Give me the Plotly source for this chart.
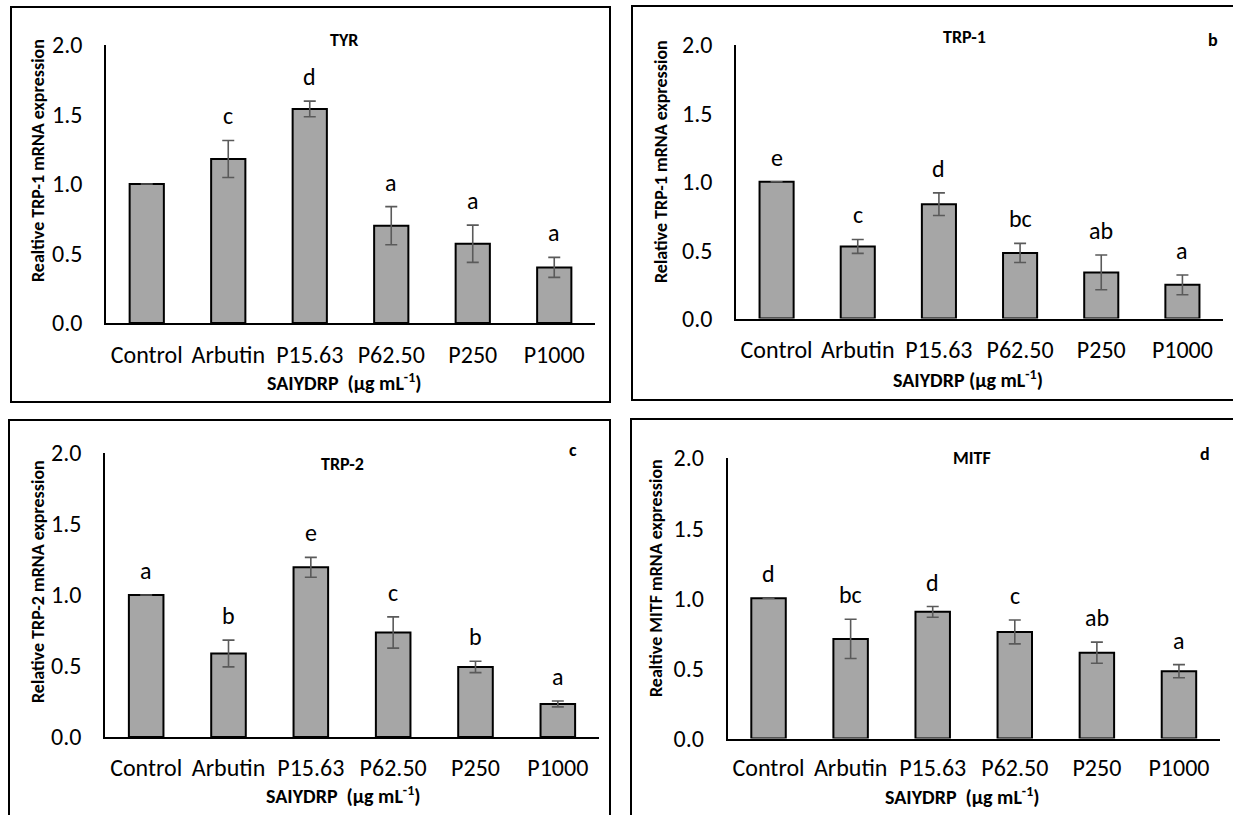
import plotly.graph_objects as go

W, H = 1233, 815

categories = ["Control", "Arbutin", "P15.63", "P62.50", "P250", "P1000"]

tyr_mean = [1.0, 1.18, 1.54, 0.70, 0.57, 0.40]
tyr_err = [0.0, 0.133, 0.056, 0.137, 0.134, 0.072]
tyr_letters = ["", "c", "d", "a", "a", "a"]

trp1_mean = [1.0, 0.527, 0.836, 0.479, 0.337, 0.246]
trp1_err = [0.0, 0.051, 0.083, 0.070, 0.127, 0.072]
trp1_letters = ["e", "c", "d", "bc", "ab", "a"]

trp2_mean = [1.0, 0.588, 1.195, 0.736, 0.493, 0.233]
trp2_err = [0.0, 0.094, 0.070, 0.110, 0.040, 0.021]
trp2_letters = ["a", "b", "e", "c", "b", "a"]

mitf_mean = [1.0, 0.71, 0.903, 0.76, 0.612, 0.48]
mitf_err = [0.0, 0.140, 0.038, 0.085, 0.075, 0.047]
mitf_letters = ["d", "bc", "d", "c", "ab", "a"]

y_ticks = [0.0, 0.5, 1.0, 1.5, 2.0]

FONT = "Carlito, Calibri, Lato, sans-serif"


def px_x(v):
    return v / W


def px_y(v):
    return 1 - v / H


panels = [
    dict(mean=tyr_mean, err=tyr_err, letters=tyr_letters,
         plot=(106, 595, 45, 323), box=(11, 610, 7, 402), ticklen=9,
         title="TYR", title_pos=(344, 40),
         ylabel="Realtive TRP-1 mRNA expression", ylabel_pos=(38, 161),
         xlabel="SAIYDRP  (µg mL<sup>-1</sup>)", xlabel_pos=(344, 382),
         corner=None, corner_pos=None),
    dict(mean=trp1_mean, err=trp1_err, letters=trp1_letters,
         plot=(736, 1223, 45, 318.5), box=(632, 1245, 6, 400), ticklen=9,
         title="TRP-1", title_pos=(964, 37),
         ylabel="Relative TRP-1 mRNA expression", ylabel_pos=(661, 162),
         xlabel="SAIYDRP (µg mL<sup>-1</sup>)", xlabel_pos=(968, 379),
         corner="b", corner_pos=(1213, 40)),
    dict(mean=trp2_mean, err=trp2_err, letters=trp2_letters,
         plot=(105, 599, 453, 737), box=(9, 610, 420, 830), ticklen=8,
         title="TRP-2", title_pos=(343, 464),
         ylabel="Relative TRP-2 mRNA expression", ylabel_pos=(38, 582),
         xlabel="SAIYDRP  (µg mL<sup>-1</sup>)", xlabel_pos=(343, 795),
         corner="c", corner_pos=(573, 450)),
    dict(mean=mitf_mean, err=mitf_err, letters=mitf_letters,
         plot=(727.5, 1220, 458, 738.5), box=(631, 1245, 419, 830), ticklen=7,
         title="MITF", title_pos=(972, 458),
         ylabel="Realtive MITF mRNA expression", ylabel_pos=(656, 578),
         xlabel="SAIYDRP  (µg mL<sup>-1</sup>)", xlabel_pos=(962, 796),
         corner="d", corner_pos=(1205, 454)),
]

fig = go.Figure()
annotations = []
shapes = []

for i, p in enumerate(panels, start=1):
    xa = "x" if i == 1 else f"x{i}"
    ya = "y" if i == 1 else f"y{i}"
    fig.add_trace(go.Bar(
        x=categories, y=p["mean"], xaxis=xa, yaxis=ya,
        width=0.42,
        marker=dict(color="#A6A6A6", line=dict(color="#000000", width=2)),
        error_y=dict(type="data", array=p["err"], visible=True,
                     color="#5a5a5a", thickness=1.6, width=6),
        showlegend=False, hoverinfo="skip",
    ))
    x0, x1, y0, y1 = p["plot"]
    axis_x = dict(domain=[px_x(x0), px_x(x1)], anchor=ya,
                  showline=True, linecolor="#000000", linewidth=1.5,
                  showgrid=False, zeroline=False, automargin=False,
                  ticks="outside", ticklen=p["ticklen"], tickcolor="rgba(0,0,0,0)",
                  tickfont=dict(family=FONT, size=24, color="#000000"),
                  fixedrange=True)
    axis_y = dict(domain=[px_y(y1), px_y(y0)], anchor=xa, range=[0, 2],
                  tickvals=y_ticks, tickformat=".1f", automargin=False,
                  showline=True, linecolor="#000000", linewidth=1.5,
                  showgrid=False, zeroline=False,
                  ticks="outside", ticklen=17, tickcolor="rgba(0,0,0,0)",
                  tickfont=dict(family=FONT, size=24, color="#000000"),
                  fixedrange=True)
    key = "" if i == 1 else str(i)
    fig.update_layout(**{f"xaxis{key}": axis_x, f"yaxis{key}": axis_y})

    # significance letters
    for c, m, e, t in zip(categories, p["mean"], p["err"], p["letters"]):
        if t:
            annotations.append(dict(
                x=c, y=m + e, xref=xa, yref=ya, text=t, showarrow=False,
                yanchor="bottom", yshift=8,
                font=dict(family=FONT, size=24, color="#000000")))

    # title
    tx, ty = p["title_pos"]
    annotations.append(dict(x=px_x(tx), y=px_y(ty), xref="paper", yref="paper",
                            text=f"<b>{p['title']}</b>", showarrow=False,
                            xanchor="center", yanchor="middle",
                            font=dict(family=FONT, size=18, color="#000000")))
    # corner letter
    if p["corner"]:
        cx, cy = p["corner_pos"]
        annotations.append(dict(x=px_x(cx), y=px_y(cy), xref="paper", yref="paper",
                                text=f"<b>{p['corner']}</b>", showarrow=False,
                                xanchor="center", yanchor="middle",
                                font=dict(family=FONT, size=18, color="#000000")))
    # y label
    lx, ly = p["ylabel_pos"]
    annotations.append(dict(x=px_x(lx), y=px_y(ly), xref="paper", yref="paper",
                            text=f"<b>{p['ylabel']}</b>", showarrow=False,
                            textangle=-90, xanchor="center", yanchor="middle",
                            font=dict(family=FONT, size=18, color="#000000")))
    # x label
    xx, xy = p["xlabel_pos"]
    annotations.append(dict(x=px_x(xx), y=px_y(xy), xref="paper", yref="paper",
                            text=f"<b>{p['xlabel']}</b>", showarrow=False,
                            xanchor="center", yanchor="middle",
                            font=dict(family=FONT, size=20, color="#000000")))
    # panel box
    bx0, bx1, by0, by1 = p["box"]
    shapes.append(dict(type="rect", xref="paper", yref="paper",
                       x0=px_x(bx0), x1=px_x(bx1), y0=px_y(by1), y1=px_y(by0),
                       line=dict(color="#000000", width=2)))

fig.update_layout(
    width=W, height=H,
    margin=dict(l=0, r=0, t=0, b=0, pad=0, autoexpand=False),
    paper_bgcolor="#FFFFFF", plot_bgcolor="#FFFFFF",
    bargap=0.58,
    annotations=annotations, shapes=shapes,
    font=dict(family=FONT, color="#000000"),
)

fig.write_html("out.html")
